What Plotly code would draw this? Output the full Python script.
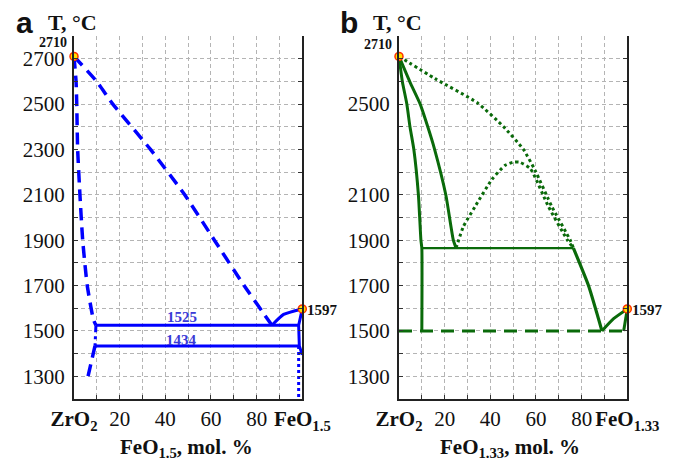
import plotly.graph_objects as go

# ---------------- data: panel a (ZrO2 - FeO1.5) ----------------
a_liq_x = [0, 9.9, 17, 33.5, 48.5, 61.5, 74.5, 86.7]
a_liq_y = [2710, 2600, 2500, 2300, 2100, 1900, 1700, 1525]
a_left_x = [0, 0.9, 1.2, 1.6, 2.6, 3.8, 5.8, 8.5, 9.6]
a_left_y = [2710, 2600, 2500, 2300, 2100, 1900, 1700, 1550, 1525]
a_eut_x = [9.6, 98.4]
a_eut_y = [1525, 1525]
a_dd_x = [9.6, 9.2]
a_dd_y = [1525, 1434]
a_per_x = [9.2, 98.7]
a_per_y = [1434, 1434]
a_low_x = [9.2, 5.8]
a_low_y = [1434, 1285]
a_rise_x = [86.7, 91.8, 100]
a_rise_y = [1525, 1573, 1597]
a_right_x = [100, 98.4, 98.7, 100]
a_right_y = [1597, 1525, 1434, 1395]
a_dot_x = [98.4, 98.4]
a_dot_y = [1434, 1200]

# ---------------- data: panel b (ZrO2 - FeO1.33) ----------------
b_left_x = [0, 1.5, 3.4, 4.8, 6.5, 8.5, 9.6, 10, 10]
b_left_y = [2710, 2597, 2502, 2400, 2300, 2100, 1900, 1865, 1500]
b_mid_x = [0, 4.8, 9.2, 12.6, 15.5, 20.5, 23.8, 25]
b_mid_y = [2710, 2597, 2502, 2400, 2304, 2100, 1900, 1865]
b_mono_x = [10, 76.4]
b_mono_y = [1865, 1865]
b_dome_x = [25, 28.2, 33.3, 40.7, 46.5, 50.1, 52.8, 57.5, 65.5, 73.8, 76.4]
b_dome_y = [1865, 1960, 2048, 2168, 2230, 2244, 2244, 2216, 2047, 1900, 1865]
b_up_x = [0, 15.8, 34.4, 45.8, 54.5, 59.6, 67, 75, 76.4]
b_up_y = [2710, 2612, 2505, 2400, 2300, 2208, 2047, 1900, 1865]
b_down_x = [76.4, 83, 88.9]
b_down_y = [1865, 1700, 1500]
b_rise_x = [88.9, 94, 100]
b_rise_y = [1500, 1554, 1597]
b_right_x = [100, 98.4]
b_right_y = [1597, 1500]
b_eut_x = [0, 100]
b_eut_y = [1500, 1500]

melt_x = [0, 100]
melt_y = [2710, 1597]

a_ytickvals = [1300, 1500, 1700, 1900, 2100, 2300, 2500, 2700]
a_yminor = [1400, 1600, 1800, 2000, 2200, 2400, 2600]
b_ytickvals = [1300, 1500, 1700, 1900, 2100, 2500]
b_yminor = [1400, 1600, 1800, 2000, 2200, 2300, 2400, 2600, 2700]
x_tickvals = [0, 20, 40, 60, 80, 100]
x_minor = [10, 30, 50, 70, 90]
a_xticktext = ["<b>ZrO<sub>2</sub></b>", "20", "40", "60", "80", "<b>FeO<sub>1.5</sub></b>"]
b_xticktext = ["<b>ZrO<sub>2</sub></b>", "20", "40", "60", "80", "<b>FeO<sub>1.33</sub></b>"]

BLUE = "#0000ff"
GREEN = "#0a6a0a"
SERIF = "'Liberation Serif', 'Times New Roman', Times, serif"
SANS = "'Liberation Sans', Arial, sans-serif"

fig = go.Figure()


def line(x, y, color, width, dash="solid", xa="x", ya="y", shape="spline"):
    fig.add_trace(go.Scatter(x=x, y=y, mode="lines", xaxis=xa, yaxis=ya,
                             line=dict(color=color, width=width, dash=dash, shape=shape,
                                       smoothing=0.5),
                             hoverinfo="skip", showlegend=False))


# panel a
line(a_liq_x, a_liq_y, BLUE, 3.5, "12px,7px")
line(a_left_x, a_left_y, BLUE, 3.5, "12px,7px")
line(a_eut_x, a_eut_y, BLUE, 3, shape="linear")
line(a_dd_x, a_dd_y, BLUE, 3, "7px,4px,3px,4px", shape="linear")
line(a_per_x, a_per_y, BLUE, 3, shape="linear")
line(a_low_x, a_low_y, BLUE, 3.5, "12px,7px", shape="linear")
line(a_rise_x, a_rise_y, BLUE, 3)
line(a_right_x, a_right_y, BLUE, 3, shape="linear")
line(a_dot_x, a_dot_y, BLUE, 3, "3px,3px", shape="linear")

# panel b
line(b_eut_x, b_eut_y, GREEN, 3, "13px,8px", "x2", "y2", shape="linear")
line(b_left_x, b_left_y, GREEN, 3, xa="x2", ya="y2")
line(b_mid_x, b_mid_y, GREEN, 3, xa="x2", ya="y2")
line(b_mono_x, b_mono_y, GREEN, 2.2, xa="x2", ya="y2", shape="linear")
line(b_dome_x, b_dome_y, GREEN, 3, "3px,3px", "x2", "y2")
line(b_up_x, b_up_y, GREEN, 3, "3px,3px", "x2", "y2")
line(b_down_x, b_down_y, GREEN, 3.2, xa="x2", ya="y2")
line(b_rise_x, b_rise_y, GREEN, 3, xa="x2", ya="y2")
line(b_right_x, b_right_y, GREEN, 3, xa="x2", ya="y2", shape="linear")

for xa, ya in (("x", "y"), ("x2", "y2")):
    fig.add_trace(go.Scatter(x=melt_x, y=melt_y, mode="markers", xaxis=xa, yaxis=ya,
                             marker=dict(size=8, color="#ffe000",
                                         line=dict(color="#ff3000", width=1.5)),
                             cliponaxis=False, hoverinfo="skip", showlegend=False))

GRID = dict(showgrid=True, gridcolor="#b4b4b4", gridwidth=1, griddash="4px,3px")
axis_common = dict(range=[0, 100], showline=True, linecolor="#222", linewidth=2,
                   mirror=False, ticks="inside", ticklen=4, tickcolor="#333",
                   zeroline=False, tickvals=x_tickvals, tickangle=0, automargin=False,
                   tickfont=dict(family=SERIF, size=21, color="#111"),
                   ticklabelstandoff=0,
                   minor=dict(tickvals=x_minor, ticks="inside", ticklen=4, tickcolor="#333", **GRID),
                   **GRID)
yaxis_common = dict(range=[1200, 2800], showline=True, linecolor="#222", linewidth=2,
                    mirror="allticks", ticks="inside", ticklen=4, tickcolor="#333",
                    zeroline=False, automargin=False,
                    tickfont=dict(family=SERIF, size=21, color="#111"),
                    ticklabelstandoff=3, **GRID)

fig.update_layout(
    template="none",
    width=685, height=462, margin=dict(l=0, r=0, t=0, b=0, pad=0, autoexpand=False),
    paper_bgcolor="white", plot_bgcolor="white",
    xaxis=dict(domain=[74 / 685, 302.3 / 685], anchor="y", ticktext=a_xticktext, **axis_common),
    yaxis=dict(domain=[1 - 399 / 462, 1 - 36 / 462], anchor="x", tickvals=a_ytickvals,
               minor=dict(tickvals=a_yminor, ticks="inside", ticklen=4, tickcolor="#333", **GRID),
               **yaxis_common),
    xaxis2=dict(domain=[399 / 685, 627.3 / 685], anchor="y2", ticktext=b_xticktext, **axis_common),
    yaxis2=dict(domain=[1 - 399 / 462, 1 - 36 / 462], anchor="x2", tickvals=b_ytickvals,
                minor=dict(tickvals=b_yminor, ticks="inside", ticklen=4, tickcolor="#333", **GRID),
                **yaxis_common),
)

ann = []


def txt(x, y, text, size, family=SERIF, color="#111", xanchor="center"):
    ann.append(dict(x=x / 685, y=1 - y / 462, xref="paper", yref="paper", text=text,
                    showarrow=False, xanchor=xanchor, yanchor="middle",
                    font=dict(family=family, size=size, color=color)))


txt(25, 22, "<b>a</b>", 30, family=SANS)
txt(349, 22, "<b>b</b>", 30, family=SANS)
txt(72, 22.5, "<b>T, °C</b>", 22)
txt(397, 22.5, "<b>T, °C</b>", 22)
txt(52.5, 42.5, "<b>2710</b>", 14)
txt(377.5, 44, "<b>2710</b>", 14)
txt(305, 309.5, "<b>1597</b>", 15, xanchor="left")
txt(630, 309.5, "<b>1597</b>", 15, xanchor="left")
txt(181.5, 317, "<b>1525</b>", 15, color="#3a3ad6")
txt(181.5, 340, "<b>1434</b>", 15, color="#3a3ad6")
txt(187, 448, "<b>FeO<sub>1.5</sub>, mol. %</b>", 21)
txt(510, 448, "<b>FeO<sub>1.33</sub>, mol. %</b>", 21)
fig.update_layout(annotations=ann)

fig.write_html("out.html")
